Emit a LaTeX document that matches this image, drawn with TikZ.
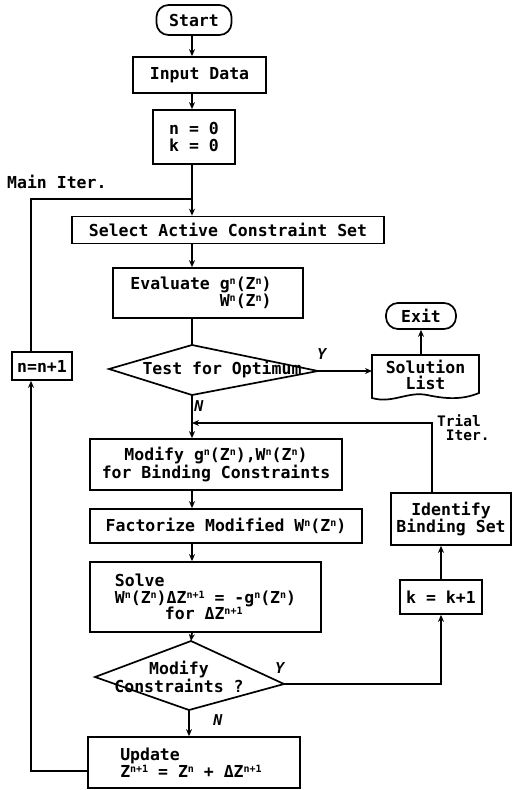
\documentclass[tikz,border=0pt]{standalone}
\usepackage{fontspec}
\setmonofont{DejaVu Sans Mono}
\usetikzlibrary{arrows.meta}
\newcommand\SU[1]{\raisebox{0.55ex}{\fontsize{10}{10}\selectfont #1}}
\newcommand\txtfont{\ttfamily\bfseries\fontsize{16.5}{16.5}\selectfont}
\tikzset{
 conn/.style={line width=1.7pt, line join=miter},
 arr/.style={conn, -{Stealth[length=7pt,width=6pt]}},
 box/.style={draw, line width=1.7pt, inner sep=0pt, font=\txtfont, align=center},
 term/.style={box, rounded corners=12pt},
 txt/.style={font=\txtfont, inner sep=0pt, align=center},
 lab/.style={font=\ttfamily\bfseries\itshape\fontsize{15}{15}\selectfont, inner sep=0pt},
}
\begin{document}
\begin{tikzpicture}[x=1pt,y=-1pt]
\useasboundingbox (0,0) rectangle (512,790);
% main line
\coordinate (L) at (192,0);
\coordinate (mj) at (192,199);
\coordinate (lx) at (31,0);
\coordinate (tj) at (432,423);
\coordinate (uw) at (88,771);

\node[term, minimum width=75pt, minimum height=30pt] (start) at (194,20) {Start};
\node[box, minimum width=133pt, minimum height=36pt] (input) at (199.5,75) {Input Data};
\node[box, minimum width=82pt, minimum height=54pt] (init) at (194,137) {n = 0\\k = 0};
\node[txt, anchor=west] (mainlab) at (7,182) {Main Iter.};
\node[box, minimum width=312pt, minimum height=27pt] (select) at (228,230) {Select Active Constraint Set};
\node[box, minimum width=190pt, minimum height=50pt, align=left] (eval) at (208,293)
  {Evaluate g\SU{n}(Z\SU{n})\\\hphantom{Evaluate }W\SU{n}(Z\SU{n})\hspace*{14pt}};

% test diamond
\coordinate (tT) at (192,345);
\coordinate (tR) at (318,371);
\coordinate (tB) at (192,395);
\coordinate (tL) at (109,369);
\draw[conn] (tT) -- (tR) -- (tB) -- (tL) -- cycle;
\node[txt] (test) at (222,370) {Test for Optimum};

\node[box, minimum width=60pt, minimum height=28pt] (nn1) at (42,366) {n=n+1};

% solution list (document shape)
\node[txt, minimum width=107pt, minimum height=40pt] (sol) at (425.5,375) {Solution\\List};
\draw[conn] (372,355) -- (479,355) -- (479,393)
  .. controls (462,400) and (446,399) .. (427,395)
  .. controls (408,391) and (392,404) .. (372,398) -- cycle;
\node[term, minimum width=70pt, minimum height=26pt] (exit) at (421,316) {Exit};

\node[lab] (y1) at (322,354) {Y};
\node[lab] (n1) at (199,406) {N};

\node[txt, align=left, anchor=north west, font=\ttfamily\bfseries\fontsize{14.5}{14}\selectfont] (triallab) at (437,415) {Trial\\\ Iter.};

\node[box, minimum width=252pt, minimum height=51pt] (modify) at (216,464.5)
  {Modify g\SU{n}(Z\SU{n}),W\SU{n}(Z\SU{n})\\for Binding Constraints};
\node[box, minimum width=272pt, minimum height=34pt] (fact) at (226,526)
  {Factorize Modified W\SU{n}(Z\SU{n})};
\node[box, minimum width=231pt, minimum height=70pt, align=left] (solve) at (205.5,597)
  {Solve\\W\SU{n}(Z\SU{n})ΔZ\SU{n+1} = -g\SU{n}(Z\SU{n})\\\hspace*{50pt}for ΔZ\SU{n+1}};
\node[box, minimum width=120pt, minimum height=52pt] (ident) at (451,519) {Identify\\Binding Set};
\node[box, minimum width=82pt, minimum height=34pt] (kk1) at (441,597) {k = k+1};

% modify constraints diamond
\coordinate (mT) at (191,641);
\coordinate (mR) at (284,684);
\coordinate (mB) at (189,710);
\coordinate (mL) at (95,677);
\draw[conn] (mT) -- (mR) -- (mB) -- (mL) -- cycle;
\node[txt] (modc) at (179,676.5) {Modify\\Constraints ?};
\node[lab] (y2) at (280,668) {Y};
\node[lab] (n2) at (218,720) {N};

\node[box, minimum width=212pt, minimum height=51pt, align=left] (update) at (194,762.5)
  {Update\\Z\SU{n+1} = Z\SU{n} + ΔZ\SU{n+1}\hspace*{6pt}};

% connectors
\draw[arr] (start.south -| L) -- (input.north -| L);
\draw[arr] (input.south -| L) -- (init.north -| L);
\draw[arr] (init.south -| L) -- (select.north -| L);
\draw[conn] (nn1.north -| lx) -- (lx |- mj) -- (mj);
\draw[arr] (select.south -| L) -- (eval.north -| L);
\draw[conn] (eval.south -| L) -- (tT);
\draw[arr] (tR) -- (tR -| 372,0);
\draw[arr] (sol.north -| exit) -- (exit.south);
\draw[arr] (tB) -- (modify.north -| L);
\draw[arr] (ident.north -| tj) -- (tj) -- (tj -| L);
\draw[arr] (modify.south -| L) -- (fact.north -| L);
\draw[arr] (fact.south -| L) -- (solve.north -| L);
\draw[arr] (solve.south -| L) -- (mT);
\draw[arr] (mR) -- (mR -| kk1) -- (kk1.south);
\draw[arr] (kk1.north) -- (ident.south -| kk1);
\draw[arr] (mB) -- (update.north -| mB);
\draw[arr] (uw) -- (uw -| lx) -- (nn1.south -| lx);
\end{tikzpicture}
\end{document}
